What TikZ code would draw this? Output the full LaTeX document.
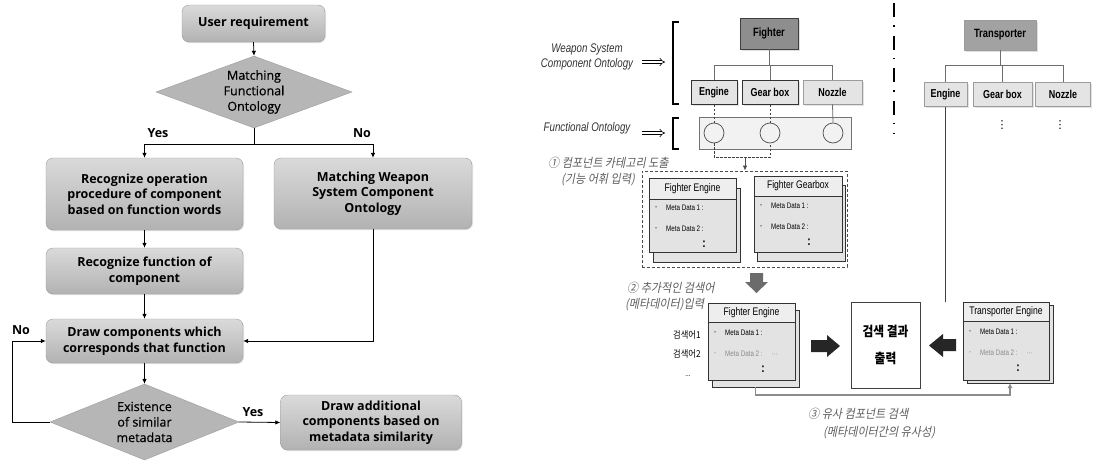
\documentclass[tikz,border=0pt]{standalone}
\usepackage{fontspec}
\setmainfont{Open Sans}
\newfontfamily\diafont{Open Sans}[FakeBold=0.5]
\newfontfamily\condfont{Liberation Sans}[FakeStretch=0.78]
\newfontfamily\krfont{Noto Sans CJK KR}[FakeStretch=0.87]
\newfontfamily\kritfont{Noto Sans CJK KR}[FakeStretch=0.9,FakeSlant=0.2]
\newfontfamily\symfont{DejaVu Sans}
\usetikzlibrary{shapes.geometric,arrows.meta,shadows,calc}

\definecolor{boxtop}{HTML}{DADADA}
\definecolor{boxbot}{HTML}{B2B2B2}
\definecolor{boxedge}{HTML}{9C9C9C}
\definecolor{diafill}{HTML}{B6B6B6}
\definecolor{darkbox}{HTML}{8E8E8E}
\definecolor{midbox}{HTML}{A2A2A2}
\definecolor{leafbox}{HTML}{E4E4E4}
\definecolor{cardhead}{HTML}{EEEEEE}
\definecolor{cardbody}{HTML}{E3E3E3}
\definecolor{notegray}{HTML}{5E5E5E}
\definecolor{treeline}{HTML}{6E6E6E}

\newcommand\flowtext{\bfseries\fontsize{12.5}{15.5}\selectfont}
\newcommand\diatext{\diafont\fontsize{12.5}{15.5}\selectfont}

% one metadata card: name, centre x, centre y, width, height, header height, back dx, back dy, title
\newcommand\metacard[9]{%
  \node[cardbox, minimum width=#4pt, minimum height=#5pt] (#1b) at (#2+#7,#3+#8) {};
  \node[cardbox, minimum width=#4pt, minimum height=#5pt] (#1) at (#2,#3) {};
  \node[cardtitle, minimum width=#4pt, minimum height=#6pt, anchor=north] (#1h) at (#1.north) {#9};
}
% the two metadata rows of a card: card name, colour of second row, tail of second row
\newcommand\metalines[3]{%
  \node[metatext] (#1d1) at ($(#1.north west)+(6,30)$) {-};
  \node[metatext] (#1m1) at ($(#1.north west)+(17,30)$) {Meta Data 1 :};
  \node[metatext, text=#2] (#1d2) at ($(#1.north west)+(6,51)$) {-};
  \node[metatext, text=#2] (#1m2) at ($(#1.north west)+(17,51)$) {Meta Data 2 :#3};
  \node[vcolon] (#1vc) at ($(#1.north west)+(55,66)$) {:};
}

\begin{document}
\begin{tikzpicture}[x=1pt,y=-1pt,
  flowbox/.style={rectangle, rounded corners=7pt, draw=boxedge, top color=boxtop,
    bottom color=boxbot, align=center, font=\flowtext, inner sep=2pt,
    drop shadow={opacity=0.22,shadow xshift=1pt,shadow yshift=-1.2pt}},
  decision/.style={diamond, draw=boxedge, fill=diafill, inner sep=0pt},
  flowlabel/.style={align=center, font=\diatext, inner sep=0pt},
  yesno/.style={font=\flowtext, inner sep=0pt},
  arr/.style={-{Latex[length=5pt,width=4.5pt]}, line width=0.8pt},
  plain/.style={line width=0.8pt},
  tree/.style={draw=treeline, line width=0.8pt},
  rootbox/.style={rectangle, font=\condfont\bfseries\fontsize{12}{14}\selectfont,
    line width=0.8pt, drop shadow={opacity=0.25,shadow xshift=1.5pt,shadow yshift=-1.5pt}},
  leaf/.style={rectangle, fill=leafbox, minimum height=24pt, inner sep=0pt,
    font=\condfont\bfseries\fontsize{11.5}{13}\selectfont,
    drop shadow={opacity=0.22,shadow xshift=1.5pt,shadow yshift=-1.5pt}},
  fobox/.style={rectangle, draw=black!55, fill=black!5, line width=0.8pt},
  circ/.style={circle, draw=black!70, minimum size=20pt, inner sep=0pt, line width=0.7pt},
  dashlink/.style={draw=black!75, dashed, dash pattern=on 2.5pt off 1.5pt, line width=0.8pt},
  cardbox/.style={rectangle, draw=black!80, fill=cardbody, line width=0.9pt, inner sep=0pt, outer sep=0pt},
  cardtitle/.style={rectangle, draw=black!80, fill=cardhead, line width=0.9pt, inner sep=0pt,
    outer sep=0pt, font=\condfont\fontsize{11}{13}\selectfont},
  metatext/.style={anchor=west, inner sep=0pt, font=\condfont\fontsize{8}{9.5}\selectfont},
  vcolon/.style={inner sep=0pt, font=\condfont\bfseries\fontsize{13}{14}\selectfont},
  enlabel/.style={align=center, inner sep=0pt, text=black!80,
    font=\condfont\itshape\fontsize{12.5}{15}\selectfont},
  krnote/.style={anchor=west, inner sep=0pt, text=notegray, font=\kritfont\fontsize{12.3}{14}\selectfont},
  krsmall/.style={inner sep=0pt, font=\krfont\fontsize{9.5}{11}\selectfont},
  dblarrow/.style={double, double distance=2.2pt, line width=0.6pt, -{Implies}},
  bracket/.style={line width=1.2pt},
  sepline/.style={line width=1.3pt, dash pattern=on 14pt off 8pt on 1.5pt off 9pt},
  simline/.style={draw=black!45, line width=1.4pt, -{Latex[length=5pt,width=5pt]}}
]
\fill[white] (0,0) rectangle (1096,463);
\path[use as bounding box] (0,0) rectangle (1096,463);

% ---------------- flowchart ----------------
\node[flowbox, minimum width=143pt, minimum height=37pt] (ur) at (253.5,23.5) {User requirement};
\node[decision, minimum width=196pt, minimum height=72pt] (d1) at (254,92) {};
\node[flowlabel] (d1t) at (d1.center) {Matching\\Functional\\Ontology};
\coordinate (split) at (254,144);
\node[flowbox, minimum width=197pt, minimum height=72pt] (ro) at (144.5,194)
  {Recognize operation\\procedure of component\\based on function words};
\node[flowbox, minimum width=198pt, minimum height=71pt] (mw) at (373,193.5)
  {Matching Weapon\\System Component\\Ontology};
\node[flowbox, minimum width=197pt, minimum height=46pt] (rf) at (144.5,271)
  {Recognize function of\\component};
\node[flowbox, minimum width=197pt, minimum height=44pt] (dc) at (144.5,341)
  {Draw components which\\corresponds that function};
\node[decision, minimum width=189pt, minimum height=76pt] (d2) at (144.5,422) {};
\node[flowlabel] (d2t) at (d2.center) {Existence\\of similar\\metadata};
\node[flowbox, minimum width=181pt, minimum height=55pt] (da) at (371,422.5)
  {Draw additional\\components based on\\metadata similarity};

\node[yesno] (y1) at (158,133) {Yes};
\node[yesno] (n1) at (362,133) {No};
\node[yesno] (n2) at (21,330) {No};
\node[yesno] (y2) at (253,412) {Yes};

\draw[arr] (ur.south) -- (d1.north);
\draw[plain] (d1.south) -- (split);
\draw[arr] (split) -| (ro.north);
\draw[arr] (split) -| (mw.north);
\draw[arr] (ro.south) -- (rf.north);
\draw[arr] (rf.south) -- (dc.north);
\draw[arr] (dc.south) -- (d2.north);
\draw[arr] (mw.south) |- (dc.east);
\draw[arr] (d2.west) -- ++(-37,0) |- (dc.west);
\draw[arr] (d2.east) -- (da.west);

% ---------------- ontology side ----------------
\node[enlabel] (wsco) at (587,57) {Weapon System\\Component Ontology};
\node[enlabel] (fol) at (587,128) {Functional Ontology};
\coordinate (wa1) at (642,62); \coordinate (wa2) at (665,62);
\coordinate (fa1) at (642,133); \coordinate (fa2) at (665,133);
\draw[dblarrow] (wa1) -- (wa2);
\draw[dblarrow] (fa1) -- (fa2);
\draw[bracket] (679,22) -- (673,22) -- (673,104) -- (679,104);
\draw[bracket] (679,118) -- (673,118) -- (673,149) -- (679,149);

% fighter tree
\node[rootbox, fill=darkbox, draw=black!75, minimum width=58pt, minimum height=31pt] (F) at (769,33.5) {Fighter};
\node[leaf, draw=black!80, line width=0.9pt, minimum width=46pt] (fe) at (714,92.5) {Engine};
\node[leaf, draw=black!80, line width=0.9pt, minimum width=56pt] (fg) at (770,92.5) {Gear box};
\node[leaf, draw=boxedge, line width=0.8pt, minimum width=59pt] (fn) at (832.5,92) {Nozzle};
\draw[tree] (F.south) -- ++(0,16);
\draw[tree] (fe.north) -- ++(0,-15) -| (fn.north);
\draw[tree] (fg.north) -- ++(0,-15);

\node[fobox, minimum width=152pt, minimum height=32pt] (FO) at (775,133) {};
\node[circ] (c1) at (714,133) {};
\node[circ] (c2) at (770,133) {};
\node[circ] (c3) at (833,133) {};
\draw[dashlink] (fe.south) -- (c1.north);
\draw[dashlink] (fg.south) -- (c2.north);
\draw[tree] (fn.south) -- (c3.north);
\draw[dashlink] (c1.south) -- ++(0,14) -| (c2.south);
\coordinate (cj) at (745,157);

\node[draw=black!70, dashed, dash pattern=on 3pt off 2pt, line width=0.9pt,
  minimum width=205pt, minimum height=96pt] (DR) at (744.5,219) {};
\draw[-{Latex[length=5pt,width=4.5pt]}, draw=black!70, line width=0.8pt] (cj) -- (cj |- DR.north);

\metacard{ca}{692.5}{215}{87}{74}{21}{4}{10}{Fighter Engine}
\metalines{ca}{black}{}
\metacard{cb}{798}{214}{88}{76}{20}{3}{9}{Fighter Gearbox}
\metalines{cb}{black}{}

% separator between the two platforms
\coordinate (s1) at (894,3); \coordinate (s2) at (894,134);
\draw[sepline] (s1) -- (s2);

% transporter tree
\node[rootbox, fill=midbox, draw=boxedge, minimum width=72pt, minimum height=30pt] (T) at (1000,35) {Transporter};
\node[leaf, draw=boxedge, line width=0.8pt, minimum width=43pt] (te) at (945.5,94.5) {Engine};
\node[leaf, draw=boxedge, line width=0.8pt, minimum width=59pt] (tg) at (1002.5,94.5) {Gear box};
\node[leaf, draw=boxedge, line width=0.8pt, minimum width=55pt] (tn) at (1063,94) {Nozzle};
\draw[tree] (T.south) -- ++(0,15);
\draw[tree] (te.north) -- ++(0,-17) -| (tn.north);
\draw[tree] (tg.north) -- ++(0,-17);
\node[inner sep=0pt, font=\symfont\fontsize{11}{12}\selectfont] (tgd) at (1002,125) {⋮};
\node[inner sep=0pt, font=\symfont\fontsize{11}{12}\selectfont] (tnd) at (1060,125) {⋮};

% search step
\node[krnote] (n1a) at (548,163) {① 컴포넌트 카테고리 도출};
\node[krnote] (n1b) at (561,180) {(기능 어휘 입력)};
\fill[black!58] (750,273) -- (763,273) -- (763,282) -- (768,282) -- (756.5,293) -- (745,282) -- (750,282) -- cycle;
\node[krnote] (n2a) at (627,288) {② 추가적인 검색어};
\node[krnote] (n2b) at (625,305) {(메타데이터)입력};

\node[krsmall, anchor=west] (q1) at (673,335) {검색어1};
\node[krsmall, anchor=west] (q2) at (673,354) {검색어2};
\node[inner sep=0pt, font=\condfont\fontsize{8}{9}\selectfont] (q3) at (688,376) {...};

\metacard{cc}{751.5}{341.5}{87}{77}{19}{4}{7}{Fighter Engine}
\metalines{cc}{black!45}{\hspace{9pt}···}
\metacard{cd}{1006}{341}{86}{78}{19}{4}{3}{Transporter Engine}
\metalines{cd}{black!45}{\hspace{9pt}···}

\node[draw=black!75, line width=0.9pt, minimum width=69pt, minimum height=86pt, align=center,
  font=\krfont\bfseries\fontsize{13.5}{27}\selectfont] (R) at (885.5,345) {검색 결과\\출력};

\fill[black!85] (811,340) -- (827,340) -- (827,335) -- (840,346) -- (827,357) -- (827,352) -- (811,352) -- cycle;
\fill[black!85] (956,339) -- (943,339) -- (943,334) -- (929,345.5) -- (943,357) -- (943,351) -- (956,351) -- cycle;

\draw[tree, draw=black!75] (te.south) -- (te.south |- cd.north);
\draw[simline] (ccb.south) -- ++(0,8) -| (cdb.south);
\node[krnote] (n3a) at (808,414) {③ 유사 컴포넌트 검색};
\node[krnote] (n3b) at (823,433) {(메타데이터간의 유사성)};
\end{tikzpicture}
\end{document}
